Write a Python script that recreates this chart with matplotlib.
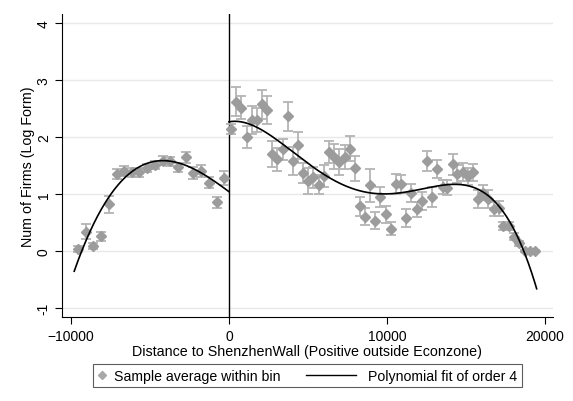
import numpy as np
import matplotlib
matplotlib.use("Agg")
import matplotlib.pyplot as plt
from matplotlib.lines import Line2D
from matplotlib.legend_handler import HandlerLine2D

plt.rcParams['font.family'] = ['Liberation Sans', 'DejaVu Sans']

# bins inside the zone (negative distance)
x_in = [-9540, -9050, -8590, -8080, -7590, -7110, -6620, -6160, -5680, -5170,
        -4680, -4200, -3730, -3230, -2740, -2260, -1750, -1270, -780, -300]
y_in = [0.035, 0.34, 0.09, 0.26, 0.82, 1.35, 1.40, 1.38, 1.38, 1.46,
        1.50, 1.58, 1.57, 1.47, 1.64, 1.37, 1.40, 1.20, 0.85, 1.28]
e_in = [0.05, 0.13, 0.05, 0.08, 0.15, 0.09, 0.09, 0.08, 0.08, 0.07,
        0.07, 0.08, 0.08, 0.08, 0.10, 0.11, 0.11, 0.09, 0.09, 0.12]

# bins outside the zone
x_out = [127, 443, 760, 1120, 1435, 1750, 2090, 2430, 2740, 3060,
         3400, 3710, 4050, 4370, 4700, 5020, 5340, 5680, 6010, 6330,
         6650, 6980, 7320, 7640, 7950, 8270, 8590, 8920, 9260, 9580,
         9920, 10230, 10570, 10890, 11200, 11540, 11880, 12200, 12510, 12830,
         13150, 13530, 13820, 14160, 14450, 14790, 15130, 15460, 15780, 16090,
         16410, 16750, 17070, 17360, 17700, 18040, 18370, 18710, 19050, 19390]
y_out = [2.14, 2.62, 2.51, 2.00, 2.30, 2.30, 2.57, 2.47, 1.70, 1.61,
         1.78, 2.36, 1.58, 1.85, 1.37, 1.23, 1.29, 1.16, 1.31, 1.74,
         1.65, 1.56, 1.65, 1.79, 1.45, 0.78, 0.60, 1.15, 0.53, 0.95,
         0.64, 0.39, 1.17, 1.17, 0.58, 1.02, 0.73, 0.87, 1.58, 0.95,
         1.44, 1.12, 1.11, 1.52, 1.35, 1.39, 1.31, 1.38, 0.91, 1.02,
         0.91, 0.74, 0.75, 0.43, 0.43, 0.25, 0.13, 0.00, 0.00, 0.00]
e_out = [0.09, 0.26, 0.20, 0.20, 0.24, 0.21, 0.25, 0.25, 0.22, 0.20,
         0.19, 0.25, 0.24, 0.24, 0.18, 0.23, 0.19, 0.17, 0.19, 0.19,
         0.22, 0.23, 0.21, 0.22, 0.22, 0.16, 0.15, 0.29, 0.15, 0.18,
         0.15, 0.11, 0.18, 0.16, 0.16, 0.16, 0.13, 0.16, 0.17, 0.18,
         0.16, 0.13, 0.13, 0.18, 0.15, 0.16, 0.15, 0.15, 0.15, 0.13,
         0.15, 0.12, 0.13, 0.07, 0.07, 0.06, 0.04, 0.02, 0.02, 0.02]

# values of the fitted quartic (fit was done on raw firm data)
fit_x_in = [-9790, -9010, -8160, -7530, -6480, -5420, -4370, -3310, -2260, -1200, -40]
fit_y_in = [-0.33, 0.15, 0.68, 1.01, 1.33, 1.50, 1.57, 1.54, 1.45, 1.29, 1.04]
fit_x_out = [0, 700, 1860, 2910, 3970, 5020, 6080, 7130, 8080, 9140, 10190,
             11250, 12300, 13350, 15040, 15890, 16730, 17580, 18420, 19470]
fit_y_out = [2.25, 2.27, 2.18, 2.00, 1.73, 1.50, 1.32, 1.19, 1.09, 1.01, 0.99,
             1.03, 1.09, 1.15, 1.16, 1.09, 0.88, 0.56, 0.15, -0.65]


class LeftLine(HandlerLine2D):
    # legend line that reaches out to the left of its (short) handle box, in points
    def create_artists(self, legend, orig_handle, xdescent, ydescent,
                       width, height, fontsize, trans):
        yc = (height - ydescent) / 2.
        line = Line2D([-xdescent - 33, -xdescent + 3], [yc, yc])
        self.update_prop(line, orig_handle, legend)
        line.set_transform(trans)
        return [line]


fig = plt.figure(figsize=(5.73, 4.02), dpi=100)
ax = fig.add_axes([0.108, 0.209, 0.857, 0.754])

for xs, ys, es in [(x_in, y_in, e_in), (x_out, y_out, e_out)]:
    ax.errorbar(xs, ys, yerr=es, fmt='none', ecolor='#b4b4b4', elinewidth=1.3,
                capsize=3.5, capthick=1.3, zorder=2)
    ax.plot(xs, ys, 'D', color='#9c9c9c', markersize=5.5, zorder=3)

cl = np.polyfit(fit_x_in, fit_y_in, 4)
gl = np.linspace(fit_x_in[0], 0, 200)
ax.plot(gl, np.polyval(cl, gl), color='black', lw=1.2, zorder=4)
cr = np.polyfit(fit_x_out, fit_y_out, 4)
gr = np.linspace(0, fit_x_out[-1], 300)
ax.plot(gr, np.polyval(cr, gr), color='black', lw=1.2, zorder=4)

ax.axvline(0, color='black', lw=1.0, zorder=1)

ax.set_xlim(-10570, 20500)
ax.set_ylim(-1.16, 4.16)
ax.set_xticks([-10000, 0, 10000, 20000])
ax.set_yticks([-1, 0, 1, 2, 3, 4])
ax.set_yticklabels(['-1', '0', '1', '2', '3', '4'], rotation=90, va='center')
ax.tick_params(labelsize=10, length=5, color='black')
ax.tick_params(axis='y', pad=3)
ax.grid(axis='y', color='#e8e8e8', lw=1.0)
ax.set_axisbelow(True)
for s in ['top', 'right']:
    ax.spines[s].set_visible(False)

ax.set_xlabel('Distance to ShenzhenWall (Positive outside Econzone)', fontsize=10.3, labelpad=1)
ax.set_ylabel('Num of Firms (Log Form)', fontsize=10.3, labelpad=1.5)

h1 = Line2D([], [], marker='D', color='#a8a8a8', ls='none', markersize=4)
h2 = Line2D([], [], color='black', lw=1.0)
leg = fig.legend([h1, h2], ['Sample average within bin', 'Polynomial fit of order 4'],
                 handler_map={h2: LeftLine()},
                 ncol=2, loc='center', bbox_to_anchor=(0.5366, 0.0634), fontsize=10.2,
                 frameon=True, fancybox=False, edgecolor='#333333', handlelength=0.65,
                 columnspacing=5.1, handletextpad=0.47, borderpad=0.32,
                 borderaxespad=0)
leg.get_frame().set_linewidth(0.8)

fig.savefig('out.png', dpi=100)
